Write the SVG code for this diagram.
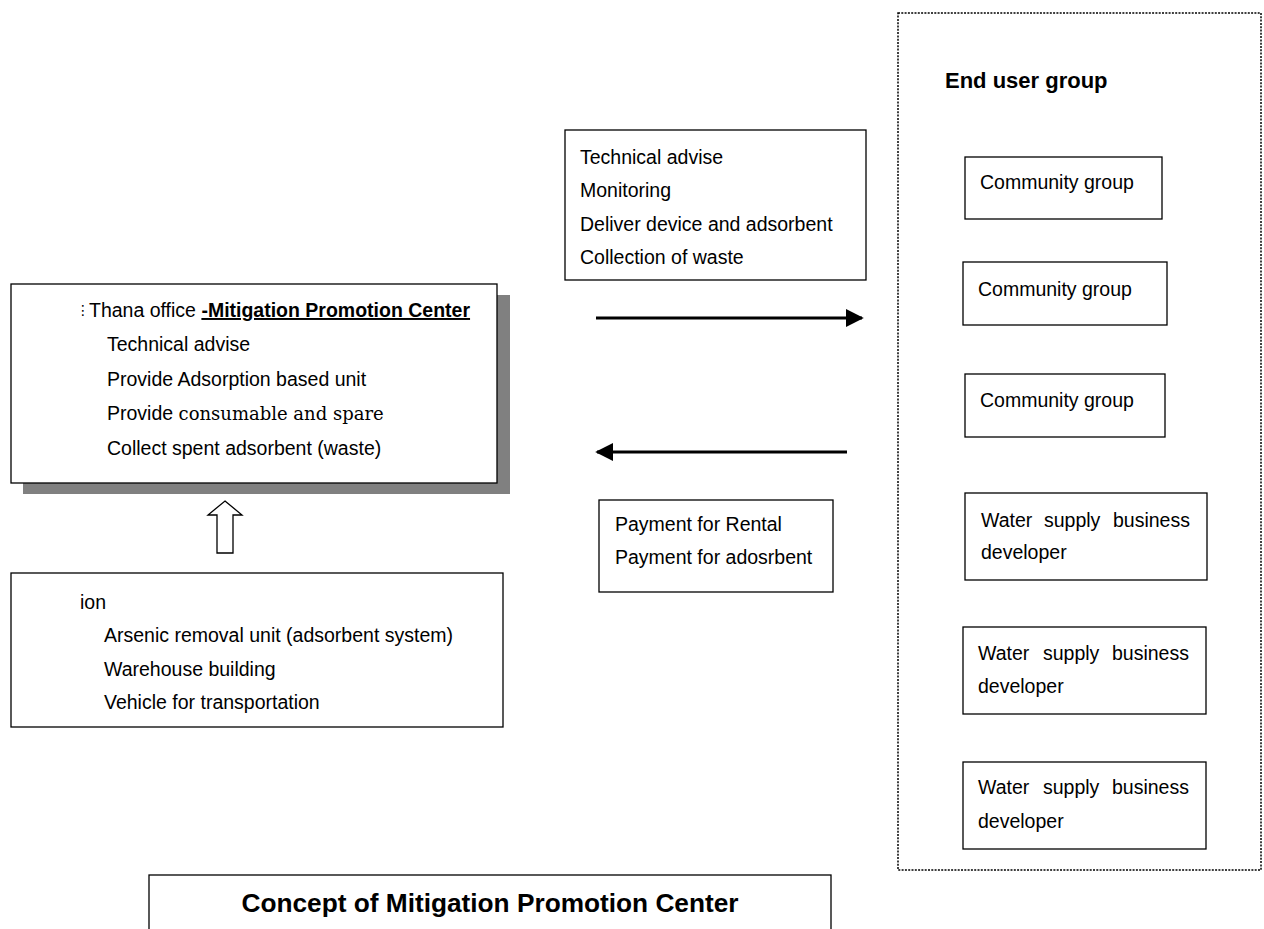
<svg xmlns="http://www.w3.org/2000/svg" width="1264" height="929" viewBox="0 0 1264 929">
<defs>
<style>
.box{fill:#fff;stroke:#000;stroke-width:1.3}
.t{font-family:"Liberation Sans",Arial,sans-serif;font-size:19.5px;fill:#000}
.b{font-family:"Liberation Sans",Arial,sans-serif;font-weight:bold;fill:#000}
.sf{font-family:"DejaVu Serif","Liberation Serif",serif;font-size:18px}
.conn{stroke:#000;stroke-width:3;fill:none}
</style>
<marker id="ah" viewBox="0 0 10 10" refX="9" refY="5" markerWidth="6" markerHeight="6" markerUnits="strokeWidth" orient="auto">
<path d="M0,0 L10,5 L0,10 Z" fill="#000"/>
</marker>
</defs>
<rect width="1264" height="929" fill="#fff"/>

<g id="end-user-group">
<rect x="898" y="13" width="363" height="857" fill="none" stroke="#000" stroke-width="1.5" stroke-dasharray="2 1.3"/>
<text class="b" x="945" y="88" font-size="22">End user group</text>
</g>

<g id="services-box">
<rect class="box" x="565" y="130" width="301" height="150"/>
<text class="t" x="580" y="164">Technical advise</text>
<text class="t" x="580" y="197">Monitoring</text>
<text class="t" x="580" y="231">Deliver device and adsorbent</text>
<text class="t" x="580" y="264">Collection of waste</text>
</g>

<g id="mpc">
<rect x="23" y="295" width="487" height="199" fill="#808080"/>
<rect class="box" x="11" y="284" width="486" height="199"/>
<text x="76" y="315" font-family="DejaVu Sans,sans-serif" font-size="14">⋮</text>
<text class="t" x="89" y="317">Thana office <tspan font-weight="bold" text-decoration="underline">-Mitigation Promotion Center</tspan></text>
<text class="t" x="107" y="351">Technical advise</text>
<text class="t" x="107" y="386">Provide Adsorption based unit</text>
<text class="t" x="107" y="420">Provide <tspan class="sf">consumable and spare</tspan></text>
<text class="t" x="107" y="455">Collect spent adsorbent (waste)</text>
</g>

<g id="inputs">
<rect class="box" x="11" y="573" width="492" height="154"/>
<text class="t" x="80" y="609">ion</text>
<text class="t" x="104" y="642">Arsenic removal unit (adsorbent system)</text>
<text class="t" x="104" y="676">Warehouse building</text>
<text class="t" x="104" y="709">Vehicle for transportation</text>
</g>

<g id="payment-box">
<rect class="box" x="599" y="500" width="234" height="92"/>
<text class="t" x="615" y="531">Payment for Rental</text>
<text class="t" x="615" y="564">Payment for adosrbent</text>
</g>

<g id="community-1">
<rect class="box" x="965" y="157" width="197" height="62"/>
<text class="t" x="980" y="189">Community group</text>
</g>
<g id="community-2">
<rect class="box" x="963" y="262" width="204" height="63"/>
<text class="t" x="978" y="296">Community group</text>
</g>
<g id="community-3">
<rect class="box" x="965" y="374" width="200" height="63"/>
<text class="t" x="980" y="407">Community group</text>
</g>
<g id="water-1">
<rect class="box" x="965" y="493" width="242" height="87"/>
<text class="t" x="981" y="527">Water</text>
<text class="t" x="1044" y="527">supply</text>
<text class="t" x="1113" y="527">business</text>
<text class="t" x="981" y="559">developer</text>
</g>
<g id="water-2">
<rect class="box" x="963" y="627" width="243" height="87"/>
<text class="t" x="978" y="660">Water</text>
<text class="t" x="1043" y="660">supply</text>
<text class="t" x="1112" y="660">business</text>
<text class="t" x="978" y="693">developer</text>
</g>
<g id="water-3">
<rect class="box" x="963" y="762" width="243" height="87"/>
<text class="t" x="978" y="794">Water</text>
<text class="t" x="1043" y="794">supply</text>
<text class="t" x="1112" y="794">business</text>
<text class="t" x="978" y="828">developer</text>
</g>

<g id="title">
<rect class="box" x="149" y="875" width="682" height="70"/>
<text class="b" x="490" y="912" font-size="25" text-anchor="middle" textLength="497" lengthAdjust="spacingAndGlyphs">Concept of Mitigation Promotion Center</text>
</g>

<g id="connectors">
<line class="conn" x1="596" y1="318" x2="862" y2="318" marker-end="url(#ah)"/>
<line class="conn" x1="847" y1="452" x2="597" y2="452" marker-end="url(#ah)"/>
<path d="M225,501 L242,515 L233,515 L233,553 L217,553 L217,515 L208,515 Z" fill="#fff" stroke="#000" stroke-width="1.3"/>
</g>
</svg>
